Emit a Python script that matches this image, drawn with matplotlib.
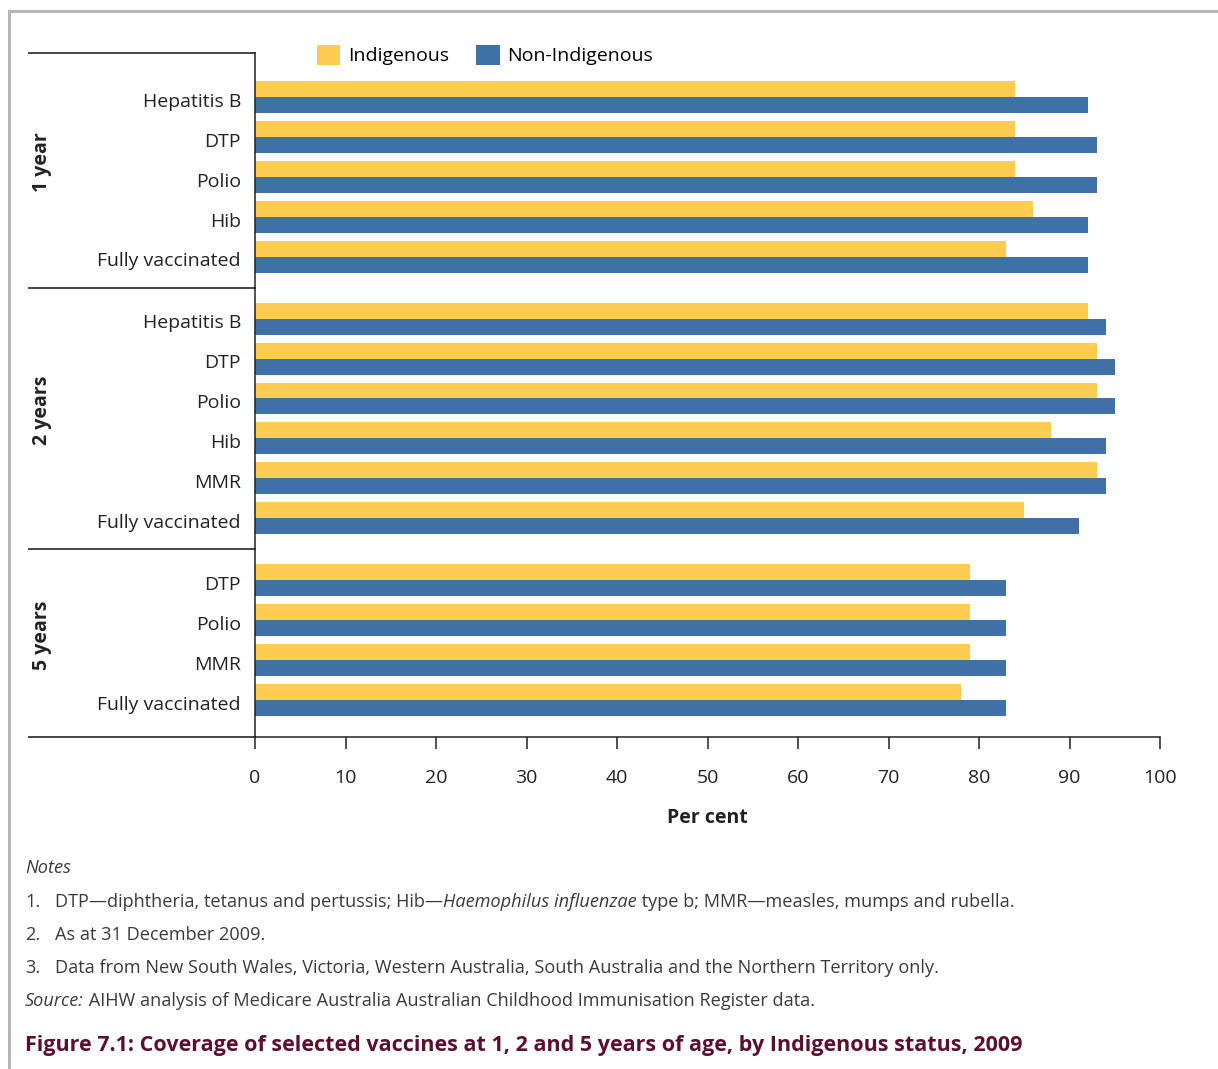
import matplotlib
matplotlib.use('Agg')
import matplotlib.pyplot as plt
from matplotlib.lines import Line2D
from matplotlib.patches import Patch

plt.rcParams['font.family'] = ['Open Sans', 'DejaVu Sans']

# Data: coverage (%) by age group, vaccine and Indigenous status, 2009
groups = ['1 year', '2 years', '5 years']
vaccines = [
    ['Hepatitis B', 'DTP', 'Polio', 'Hib', 'Fully vaccinated'],
    ['Hepatitis B', 'DTP', 'Polio', 'Hib', 'MMR', 'Fully vaccinated'],
    ['DTP', 'Polio', 'MMR', 'Fully vaccinated'],
]
indigenous = [
    [84, 84, 84, 86, 83],
    [92, 93, 93, 88, 93, 85],
    [79, 79, 79, 78],
]
non_indigenous = [
    [92, 93, 93, 92, 92],
    [94, 95, 95, 94, 94, 91],
    [83, 83, 83, 83],
]
x_ticks = [0, 10, 20, 30, 40, 50, 60, 70, 80, 90, 100]

yellow = '#FECC52'
blue = '#3F70A6'
dark = '#222222'
W, H = 1218, 1069

fig = plt.figure(figsize=(W / 100, H / 100), dpi=100)
ax = fig.add_axes([255 / W, 1 - 737 / H, (1160 - 255) / W, (737 - 53) / H])

# y positions: one unit per vaccine, extra gap between age groups
positions = []
y = 0
for g in vaccines:
    p = [y + i for i in range(len(g))]
    positions.append(p)
    y = p[-1] + 1.55

bar_h = 0.4
all_pos, all_lab = [], []
for p, labs, ind, non in zip(positions, vaccines, indigenous, non_indigenous):
    ax.barh([v - bar_h / 2 for v in p], ind, height=bar_h, color=yellow, linewidth=0)
    ax.barh([v + bar_h / 2 for v in p], non, height=bar_h, color=blue, linewidth=0)
    all_pos += p
    all_lab += labs

top = -1.1
bottom = positions[-1][-1] + 0.925
ax.set_ylim(bottom, top)
ax.set_xlim(0, 100)

ax.set_yticks([v + 0.07 for v in all_pos])
ax.set_yticklabels(all_lab, fontsize=14, color=dark)
ax.tick_params(axis='y', length=0, pad=10)
ax.set_xticks(x_ticks)
ax.tick_params(axis='x', length=8.6, width=1.1, direction='out', pad=14.5,
               labelsize=14, labelcolor=dark, color=dark)
ax.set_xlabel('Per cent', fontsize=14, fontweight='bold', color=dark, labelpad=15)

for s in ['top', 'right']:
    ax.spines[s].set_visible(False)
for s in ['left', 'bottom']:
    ax.spines[s].set_linewidth(1.1)
    ax.spines[s].set_color(dark)

# group separators in the label column
trans = ax.get_yaxis_transform()
x_left = (29 - 255) / (1160 - 255)
dividers = [top]
for a, b in zip(positions[:-1], positions[1:]):
    dividers.append((a[-1] + b[0]) / 2)
dividers.append(bottom)
for d in dividers:
    ax.add_line(Line2D([x_left, 0], [d, d], transform=trans, color='#444444',
                       lw=1.4, clip_on=False))

x_grp = (42 - 255) / (1160 - 255)
for g, lo, hi in zip(groups, dividers[:-1], dividers[1:]):
    ax.text(x_grp, (lo + hi) / 2 - 0.2, g, transform=trans, rotation=90,
            ha='center', va='center', fontsize=14, fontweight='bold', color=dark)

# legend
fig.legend(handles=[Patch(facecolor=yellow, label='Indigenous'),
                    Patch(facecolor=blue, label='Non-Indigenous')],
           loc='center left', bbox_to_anchor=(317 / W, 1 - 55 / H), ncol=2,
           frameon=False, fontsize=14, handlelength=1.2, handleheight=1.2,
           handletextpad=0.4, columnspacing=1.4, borderpad=0, borderaxespad=0)

# notes
note_col = '#3a3a3a'
fs = 13.1
fig.text(25 / W, 1 - 868 / H, 'Notes', style='italic', va='center', fontsize=fs, color=note_col)
rows = [902, 935, 968]
for i, r in enumerate(rows):
    fig.text(25 / W, 1 - r / H, f'{i + 1}.', va='center', fontsize=fs, color=note_col)

t = fig.text(55 / W, 1 - 902 / H, 'DTP—diphtheria, tetanus and pertussis; Hib—',
             va='center', fontsize=fs, color=note_col)
t = ax.annotate('Haemophilus influenzae', xy=(1, 0), xycoords=t, va='bottom',
                fontsize=fs, color=note_col, style='italic')
ax.annotate(' type b; MMR—measles, mumps and rubella.', xy=(1, 0), xycoords=t,
            va='bottom', fontsize=fs, color=note_col)
fig.text(55 / W, 1 - 935 / H, 'As at 31 December 2009.', va='center', fontsize=fs, color=note_col)
fig.text(55 / W, 1 - 968 / H,
         'Data from New South Wales, Victoria, Western Australia, South Australia and the Northern Territory only.',
         va='center', fontsize=fs, color=note_col)
t = fig.text(25 / W, 1 - 1001 / H, 'Source:', style='italic', va='center', fontsize=fs, color=note_col)
ax.annotate(' AIHW analysis of Medicare Australia Australian Childhood Immunisation Register data.',
            xy=(1, 0), xycoords=t, va='bottom', fontsize=fs, color=note_col)

fig.text(25 / W, 1 - 1046 / H,
         'Figure 7.1: Coverage of selected vaccines at 1, 2 and 5 years of age, by Indigenous status, 2009',
         va='center', fontsize=15.5, fontweight='bold', color='#5C1030')

# page frame
fig.add_artist(Line2D([9 / W, 9 / W], [0, 1 - 11 / H], color='#b5b5b5', lw=2.2))
fig.add_artist(Line2D([9 / W, 1], [1 - 11 / H, 1 - 11 / H], color='#b5b5b5', lw=2.2))

fig.savefig('out.png', dpi=100)
